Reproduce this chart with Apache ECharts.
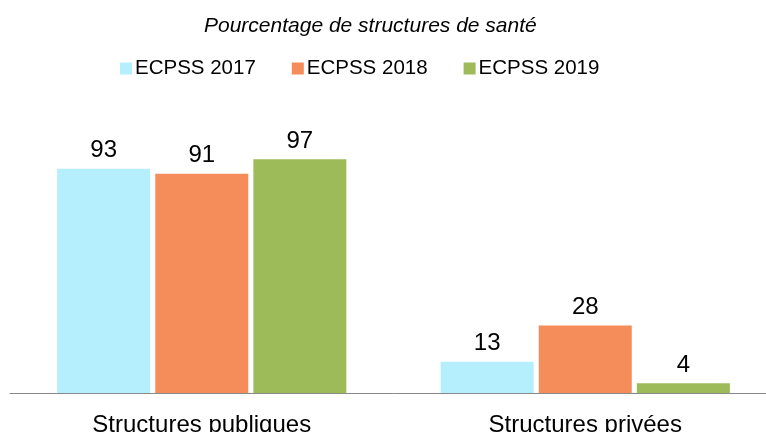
<!DOCTYPE html>
<html>
<head>
<meta charset="utf-8">
<script src="https://cdn.jsdelivr.net/npm/echarts@6/dist/echarts.min.js"></script>
<style>
  html, body { margin: 0; padding: 0; background: #fff; overflow: hidden; }
  /* slightly wider than the window: the plot area runs past the right edge */
  #chart { width: 777px; height: 432px; }
</style>
</head>
<body>
<div id="chart"></div>
<script>
const categories = ['Structures publiques', 'Structures privées']
const seriesNames = ['ECPSS 2017', 'ECPSS 2018', 'ECPSS 2019']
const values2017 = [93, 13]
const values2018 = [91, 28]
const values2019 = [97, 4]
const colors = ['#b5eefc', '#f48d5a', '#9dbb59']

const font = 'Liberation Sans, Arial, sans-serif'
const chart = echarts.init(document.getElementById('chart'))

const mkSeries = (name, data, i) => ({
  name,
  type: 'bar',
  data,
  barWidth: 93,
  barGap: '5.5%',
  itemStyle: { color: colors[i] },
  label: {
    show: true,
    position: 'top',
    distance: 6,
    color: '#000',
    fontSize: 24,
    fontFamily: font
  }
})

chart.setOption({
  animation: false,
  title: {
    text: 'Pourcentage de structures de santé',
    left: 199,
    top: 11,
    textStyle: { fontSize: 21, fontStyle: 'italic', fontWeight: 'normal', color: '#000', fontFamily: font }
  },
  legend: {
    left: 115,
    top: 53,
    itemWidth: 12,
    itemHeight: 12,
    itemGap: 36,
    icon: 'rect',
    textStyle: { fontSize: 20.5, color: '#000', fontFamily: font, padding: [0, 0, 0, -2] },
    data: seriesNames
  },
  grid: { left: 10, right: 0, top: 152, bottom: 39, outerBoundsMode: 'none' },
  xAxis: {
    type: 'category',
    data: categories,
    axisLine: { lineStyle: { color: '#888', width: 1 } },
    axisTick: { show: false },
    axisLabel: { fontSize: 24, color: '#000', fontFamily: font, margin: 20 }
  },
  yAxis: {
    type: 'value',
    min: 0,
    max: 100,
    show: false,
    splitLine: { show: false }
  },
  series: [
    mkSeries(seriesNames[0], values2017, 0),
    mkSeries(seriesNames[1], values2018, 1),
    mkSeries(seriesNames[2], values2019, 2)
  ]
})
</script>
</body>
</html>
